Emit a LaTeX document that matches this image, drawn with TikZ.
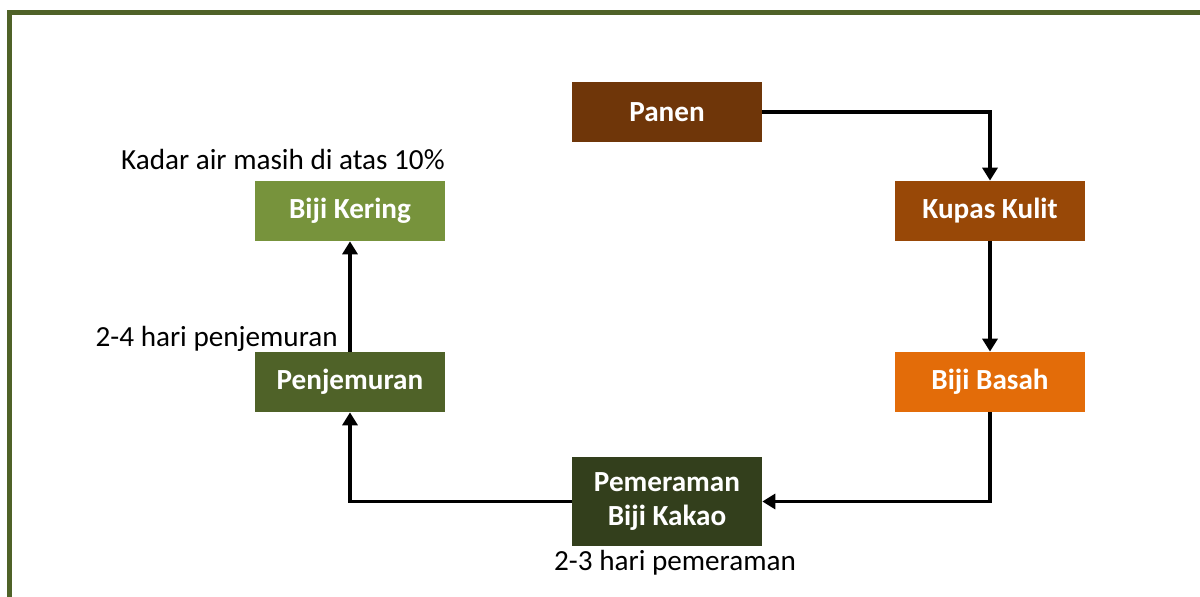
\documentclass[tikz,border=0pt]{standalone}
\usepackage{fontspec}
\setmainfont{Carlito}
\usetikzlibrary{arrows.meta}
\usetikzlibrary{positioning}
\definecolor{panenC}{HTML}{6F3609}
\definecolor{kupasC}{HTML}{984807}
\definecolor{basahC}{HTML}{E36C09}
\definecolor{peramC}{HTML}{333F1C}
\definecolor{jemurC}{HTML}{4F6228}
\definecolor{keringC}{HTML}{77933C}
\tikzset{proc/.style={draw=none, fill=#1, text=white, font=\bfseries\fontsize{16.6}{19.5}\selectfont,
                      minimum width=3.8cm, minimum height=1.2cm, inner sep=0pt, align=center}}
\tikzset{note/.style={font=\fontsize{16.6}{19.5}\selectfont, inner sep=0pt}}
\tikzset{flow/.style={-{Triangle[length=0.26cm,width=0.3cm]}, line width=2.2pt}}

\begin{document}
\begin{tikzpicture}[x=0.02cm,y=-0.02cm]
   \useasboundingbox (0,0) rectangle (1200,597);
   \clip (0,0) rectangle (1200,597);
   \draw[jemurC, line width=0.1cm] (9.5,620) -- (9.5,12.5) -- (1220,12.5);

   \node[proc=panenC]  (panen)  at (667,112) {Panen};
   \node[proc=kupasC]  (kupas)  at (990,211) {Kupas Kulit};
   \node[proc=basahC]  (basah)  at (990,382) {Biji Basah};
   \node[proc=peramC, minimum height=1.78cm] (peram) at (667,501.5) {Pemeraman\\Biji Kakao};
   \node[proc=jemurC]  (jemur)  at (350,382) {Penjemuran};
   \node[proc=keringC] (kering) at (350,211) {Biji Kering};

   \node[note, anchor=east]  (kadar)   at (445,160) {Kadar air masih di atas 10\%};
   \node[note, anchor=east]  (harijem) at (338,339) {2-4 hari penjemuran};
   \node[note, below=0.32cm of peram.south, anchor=center, xshift=0.16cm] (hariper) {2-3 hari pemeraman};

   \draw[flow] (panen.east) -| (kupas.north);
   \draw[flow] (kupas) -- (basah);
   \draw[flow] (basah.south) |- (peram.east);
   \draw[flow] (peram.west) -| (jemur.south);
   \draw[flow] (jemur) -- (kering);
\end{tikzpicture}
\end{document}
